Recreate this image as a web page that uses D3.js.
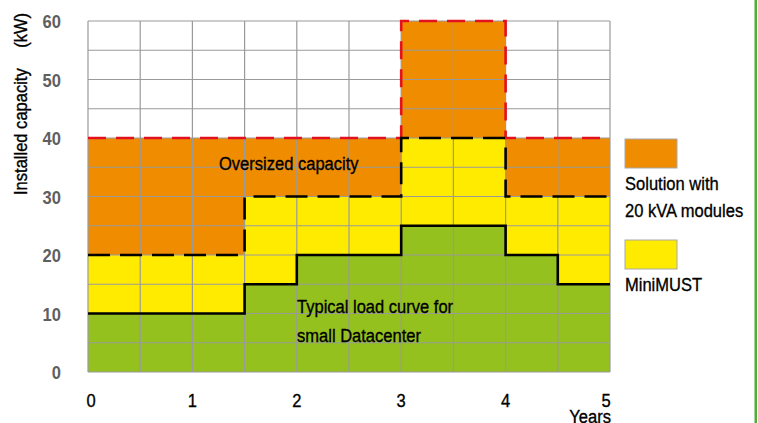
<!DOCTYPE html>
<html>
<head>
<meta charset="utf-8">
<script src="https://cdn.jsdelivr.net/npm/d3@7"></script>
<style>
  html, body { margin: 0; padding: 0; background: #fff; }
  svg { display: block; }
  text { font-family: "Liberation Sans", Arial, sans-serif; }
</style>
</head>
<body>
<svg id="chart" width="758" height="423"></svg>
<script>
"use strict";

// Step data, one value per half-year segment
const segStart = [0, 0.5, 1, 1.5, 2, 2.5, 3, 3.5, 4, 4.5];
const loadCurve = [10, 10, 10, 15, 20, 20, 25, 25, 20, 15];
const miniMust = [20, 20, 20, 30, 30, 30, 40, 40, 30, 30];
const modules20 = [40, 40, 40, 40, 40, 40, 60, 60, 40, 40];

const xTicks = [0, 1, 2, 3, 4, 5];
const yTicks = [0, 10, 20, 30, 40, 50, 60];
const xGrid = d3.range(0, 5.01, 0.5);
const yGrid = d3.range(0, 60.01, 5);

const legendItems = [
    { label: ["Solution with", "20 kVA modules"], color: "#f08c00" },
    { label: ["MiniMUST"], color: "#ffeb00" }
];

(function () {
    const svg = d3.select("#chart");

    const x = d3.scaleLinear().domain([0, 5]).range([88, 610]);
    const y = d3.scaleLinear().domain([0, 60]).range([372, 21]);

    // the original uses a condensed face, so squeeze the text a bit
    const squeeze = 0.87;
    function label(parent, px, py, str, opts) {
        opts = opts || {};
        const rot = opts.rotate ? ` rotate(${opts.rotate})` : "";
        const fill = opts.fill || "#000";
        return parent.append("text")
            .attr("transform", `translate(${px},${py})${rot} scale(${squeeze},1)`)
            .attr("text-anchor", opts.anchor || "start")
            .attr("font-size", opts.size || 19)
            .attr("font-weight", opts.weight || "normal")
            .attr("fill", fill)
            .attr("stroke", fill)
            .attr("stroke-width", opts.weight === "bold" ? 0 : 0.35)
            .text(str);
    }

    // add the final point at x = 5 so the last step is drawn
    const toPoints = vals => segStart.map((s, i) => [s, vals[i]])
        .concat([[5, vals[vals.length - 1]]]);

    const area = d3.area()
        .x(d => x(d[0]))
        .y0(y(0))
        .y1(d => y(d[1]))
        .curve(d3.curveStepAfter);

    const line = d3.line()
        .x(d => x(d[0]))
        .y(d => y(d[1]))
        .curve(d3.curveStepAfter);

    // filled areas, largest first
    svg.append("path").attr("d", area(toPoints(modules20))).attr("fill", "#f08c00");
    svg.append("path").attr("d", area(toPoints(miniMust))).attr("fill", "#ffeb00");
    svg.append("path").attr("d", area(toPoints(loadCurve))).attr("fill", "#95c11f");

    // grid
    const grid = svg.append("g")
        .attr("stroke", "#9a9a9a")
        .attr("stroke-width", 1.2);
    grid.selectAll(".vg")
        .data(xGrid)
        .enter()
        .append("line")
        .attr("x1", d => x(d)).attr("x2", d => x(d))
        .attr("y1", y(0)).attr("y2", y(60));
    grid.selectAll(".hg")
        .data(yGrid)
        .enter()
        .append("line")
        .attr("x1", x(0)).attr("x2", x(5))
        .attr("y1", d => y(d)).attr("y2", d => y(d));

    // step outlines
    svg.append("path")
        .attr("d", line(toPoints(modules20)))
        .attr("fill", "none")
        .attr("stroke", "#e3101d")
        .attr("stroke-width", 2.6)
        .attr("stroke-dasharray", "18,10");
    svg.append("path")
        .attr("d", line(toPoints(miniMust)))
        .attr("fill", "none")
        .attr("stroke", "#000")
        .attr("stroke-width", 2.6)
        .attr("stroke-dasharray", "22,10");
    svg.append("path")
        .attr("d", line(toPoints(loadCurve)))
        .attr("fill", "none")
        .attr("stroke", "#000")
        .attr("stroke-width", 2.6);

    // y axis labels
    yTicks.forEach(d => {
        label(svg, 61, y(d) + 7, d, { anchor: "end", weight: "bold", fill: "#5f5f5f" });
    });

    // x axis labels
    xTicks.forEach(d => {
        label(svg, x(d) + (d === 0 ? 3 : d === 5 ? -4 : 0), 407, d, { anchor: "middle" });
    });

    label(svg, 611, 423, "Years", { anchor: "end" });

    // y axis title
    label(svg, 27, 195, "Installed capacity", { rotate: -90 });
    label(svg, 27, 13, "(kW)", { rotate: -90, anchor: "end" });

    // annotations
    label(svg, 219, 170, "Oversized capacity");
    label(svg, 297, 313, "Typical load curve for");
    label(svg, 297, 342, "small Datacenter");

    // legend
    const legendTop = [139, 240];
    legendItems.forEach((item, i) => {
        const g = svg.append("g").attr("transform", `translate(625,${legendTop[i]})`);
        g.append("rect")
            .attr("width", 52).attr("height", 29)
            .attr("fill", item.color)
            .attr("stroke", "#a8a8a8")
            .attr("stroke-width", 1);
        item.label.forEach((t, j) => label(g, 0, 51 + j * 27, t));
    });

    // green side rule
    svg.append("rect")
        .attr("x", 754.5).attr("y", 0)
        .attr("width", 2.5).attr("height", 423)
        .attr("fill", "#4caf3a");
})();
</script>
</body>
</html>
